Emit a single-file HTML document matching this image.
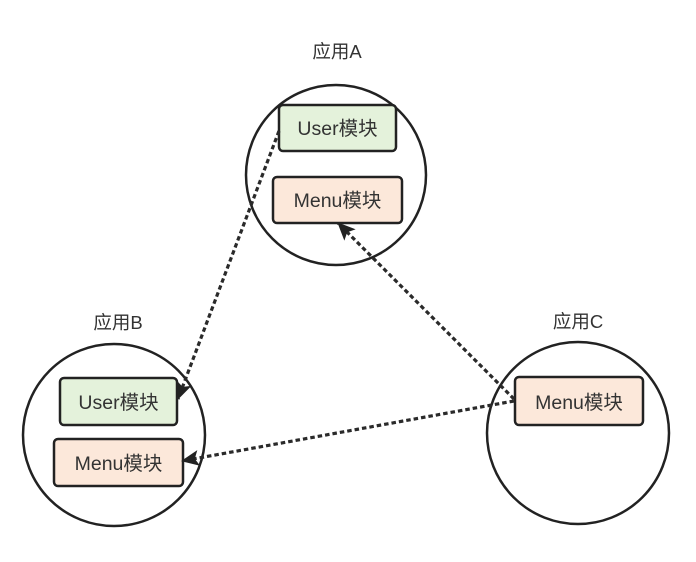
<!DOCTYPE html>
<html><head><meta charset="utf-8"><style>
html,body{margin:0;padding:0;background:#fff;}
svg{display:block;}
text{font-family:"Liberation Sans","Noto Sans CJK SC",sans-serif;fill:#333;}
</style></head><body>
<svg width="696" height="562" viewBox="0 0 696 562" xmlns="http://www.w3.org/2000/svg">
<defs>
<marker id="ah" markerWidth="18" markerHeight="16" refX="17" refY="8" orient="auto" markerUnits="userSpaceOnUse">
<path d="M0,0 L18,8 L0,16 L4,8 Z" fill="#222"/>
</marker>
</defs>
<!-- circles -->
<circle cx="336" cy="175" r="90" fill="none" stroke="#222" stroke-width="2.5"/>
<circle cx="114" cy="435" r="91" fill="none" stroke="#222" stroke-width="2.5"/>
<circle cx="578" cy="433" r="91" fill="none" stroke="#222" stroke-width="2.5"/>
<!-- labels -->
<text x="337" y="58" font-size="18.5" text-anchor="middle">应用A</text>
<text x="118" y="329" font-size="18.5" text-anchor="middle">应用B</text>
<text x="578" y="328" font-size="18.5" text-anchor="middle">应用C</text>
<!-- boxes -->
<rect x="279" y="105" width="117" height="46" rx="4" fill="#e4f2db" stroke="#222" stroke-width="2.5"/>
<text x="337.5" y="135" font-size="19.5" text-anchor="middle">User模块</text>
<rect x="273" y="177" width="129" height="46" rx="4" fill="#fce8da" stroke="#222" stroke-width="2.5"/>
<text x="337.5" y="207" font-size="19.5" text-anchor="middle">Menu模块</text>
<rect x="60" y="378" width="117" height="47" rx="4" fill="#e4f2db" stroke="#222" stroke-width="2.5"/>
<text x="118.5" y="409" font-size="19.5" text-anchor="middle">User模块</text>
<rect x="54" y="439" width="129" height="47" rx="4" fill="#fce8da" stroke="#222" stroke-width="2.5"/>
<text x="118.5" y="470" font-size="19.5" text-anchor="middle">Menu模块</text>
<rect x="515" y="377" width="128" height="48" rx="4" fill="#fce8da" stroke="#222" stroke-width="2.5"/>
<text x="579" y="409" font-size="19.5" text-anchor="middle">Menu模块</text>
<!-- connectors -->
<g fill="none" stroke="#2a2a2a" stroke-width="3.2" stroke-dasharray="4.5,3">
<path d="M279,131 L178,399" marker-end="url(#ah)"/>
<path d="M514,399 L338,223" marker-end="url(#ah)"/>
<path d="M514,401 L182,461" marker-end="url(#ah)"/>
</g>
</svg>
</body></html>
